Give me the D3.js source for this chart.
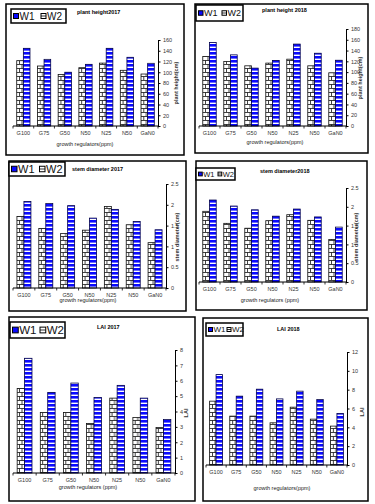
<!DOCTYPE html>
<html>
<head>
<meta charset="utf-8">
<script src="https://cdn.jsdelivr.net/npm/d3@7"></script>
<style>
  body { margin: 0; background: #fff; }
  svg { display: block; font-family: "Liberation Sans", Arial, sans-serif; }
</style>
</head>
<body>
<div id="chart"></div>
<script>
// categories shared by all six panels
const categories = ["G100", "G75", "G50", "N50", "N25", "N50", "GaN0"];

// plant height (cm)
const plantHeight2017W1 = [121.5, 111.6, 96, 108.5, 117, 103.6, 96.7];
const plantHeight2017W2 = [144.5, 124, 100, 114.7, 144.5, 127.8, 116.6];
const plantHeight2018W1 = [129, 119.8, 111.7, 116.7, 124, 111.7, 98.7];
const plantHeight2018W2 = [155, 132, 107.4, 121.7, 152, 135, 122];

// stem diameter (cm)
const stemDiameter2017W1 = [1.72, 1.43, 1.31, 1.39, 1.96, 1.52, 1.09];
const stemDiameter2017W2 = [2.08, 2.03, 1.98, 1.68, 1.89, 1.60, 1.40];
const stemDiameter2018W1 = [1.88, 1.56, 1.43, 1.63, 1.79, 1.64, 1.13];
const stemDiameter2018W2 = [2.18, 2.02, 1.92, 1.75, 1.94, 1.73, 1.46];

// leaf area index
const lai2017W1 = [5.5, 3.93, 3.93, 3.22, 4.87, 3.61, 2.96];
const lai2017W2 = [7.46, 5.24, 5.85, 4.91, 5.7, 4.87, 3.48];
const lai2018W1 = [6.78, 5.19, 5.19, 4.48, 6.14, 4.87, 4.13];
const lai2018W2 = [9.6, 7.31, 8.05, 7.02, 7.84, 6.95, 5.47];

const seriesNames = ["W1", "W2"];

const width = 375, height = 504;
const blue = "#0a0aff";

const svg = d3.select("#chart").append("svg")
  .attr("width", width)
  .attr("height", height);

// patterns: white brick for W1, blue stripes for W2
const defs = svg.append("defs");
const brick = defs.append("pattern")
  .attr("id", "brick")
  .attr("patternUnits", "userSpaceOnUse")
  .attr("width", 6).attr("height", 8);
brick.append("rect").attr("width", 6).attr("height", 8).attr("fill", "#fff");
brick.append("path")
  .attr("d", "M0,0.5H6M0,4.5H6M3,0.5V4.5M0.5,4.5V8")
  .attr("stroke", "#111").attr("stroke-width", 0.8).attr("fill", "none");

const stripes = defs.append("pattern")
  .attr("id", "stripes")
  .attr("patternUnits", "userSpaceOnUse")
  .attr("width", 8).attr("height", 4);
stripes.append("rect").attr("width", 8).attr("height", 4).attr("fill", "#fff");
stripes.append("rect").attr("width", 8).attr("height", 2.6).attr("fill", blue);

const panels = [
  { w1: plantHeight2017W1, w2: plantHeight2017W2, box: [6, 4, 184, 155], legend: [11, 9, 66, 23], legendFont: 10,
    title: "plant height2017", titleX: 77, titleY: 14, xL: 13, xR: 158, yTop: 40, yBot: 126, yMax: 160, step: 20,
    xTitle: "growth regulators(ppm)", xTitleX: 85, xTitleY: 146, yTitle: "plant height(cm)", yTitleX: 178, yTitleY: 83 },
  { w1: plantHeight2018W1, w2: plantHeight2018W2, box: [195, 4, 368, 153], legend: [196, 5, 243, 21], legendFont: 9,
    title: "plant height 2018", titleX: 262, titleY: 12, xL: 199, xR: 346, yTop: 29, yBot: 126, yMax: 180, step: 20,
    xTitle: "growth regulators(ppm)", xTitleX: 275, xTitleY: 144, yTitle: "plant height(cm)", yTitleX: 362, yTitleY: 78 },
  { w1: stemDiameter2017W1, w2: stemDiameter2017W2, box: [9, 161, 186, 311], legend: [9, 162, 65, 176], legendFont: 11,
    title: "stem diameter 2017", titleX: 72, titleY: 171, xL: 13, xR: 166, yTop: 184, yBot: 288, yMax: 2.5, step: 0.5,
    xTitle: "growth regulators(ppm)", xTitleX: 88, xTitleY: 302, yTitle: "stem diameter(cm)", yTitleX: 179, yTitleY: 237 },
  { w1: stemDiameter2018W1, w2: stemDiameter2018W2, box: [196, 161, 367, 310], legend: [196, 168, 235, 180], legendFont: 7.5,
    title: "stem diameter2018", titleX: 260, titleY: 173, xL: 199, xR: 346, yTop: 188, yBot: 282, yMax: 2.5, step: 0.5,
    xTitle: "growth regulators (ppm)", xTitleX: 270, xTitleY: 302, yTitle: "stem diameter(cm)", yTitleX: 358, yTitleY: 237 },
  { w1: lai2017W1, w2: lai2017W2, box: [9, 317, 195, 501], legend: [10, 322, 65, 338], legendFont: 11.5,
    title: "LAI 2017", titleX: 97, titleY: 329, xL: 13, xR: 175, yTop: 350, yBot: 473, yMax: 8, step: 1,
    xTitle: "growth regulators (ppm)", xTitleX: 88, xTitleY: 489, yTitle: "LAI", yTitleX: 188, yTitleY: 413 },
  { w1: lai2018W1, w2: lai2018W2, box: [203, 318, 368, 501], legend: [206, 323, 243, 336], legendFont: 8,
    title: "LAI 2018", titleX: 277, titleY: 331, xL: 206, xR: 347, yTop: 352, yBot: 465, yMax: 12, step: 2,
    xTitle: "growth regulators(ppm)", xTitleX: 282, xTitleY: 490, yTitle: "LAI", yTitleX: 364, yTitleY: 412 }
];

function drawPanel(p) {
  const g = svg.append("g");
  const [bx1, by1, bx2, by2] = p.box;

  g.append("rect")
    .attr("x", bx1).attr("y", by1)
    .attr("width", bx2 - bx1).attr("height", by2 - by1)
    .attr("fill", "none").attr("stroke", "#000").attr("stroke-width", 1.5);

  const x = d3.scaleBand()
    .domain(d3.range(categories.length))
    .range([p.xL, p.xR])
    .padding(0);
  const xInner = d3.scaleBand()
    .domain(seriesNames)
    .range([x.bandwidth() * 0.18, x.bandwidth() * 0.82])
    .padding(0);
  const y = d3.scaleLinear()
    .domain([0, p.yMax])
    .range([p.yBot, p.yTop]);

  // bars
  const groups = g.selectAll(".grp")
    .data(categories.map((c, i) => ({ i, vals: [p.w1[i], p.w2[i]] })))
    .join("g")
    .attr("transform", d => `translate(${x(d.i)},0)`);
  groups.selectAll("rect")
    .data(d => d.vals.map((v, k) => ({ key: seriesNames[k], v })))
    .join("rect")
    .attr("x", d => xInner(d.key))
    .attr("y", d => y(d.v))
    .attr("width", xInner.bandwidth())
    .attr("height", d => y(0) - y(d.v))
    .attr("fill", d => d.key === "W1" ? "url(#brick)" : "url(#stripes)")
    .attr("stroke", d => d.key === "W1" ? "#111" : "#00004a")
    .attr("stroke-width", 0.8);

  // x axis: line, boundary ticks, category labels
  g.append("line")
    .attr("x1", p.xL).attr("x2", p.xR)
    .attr("y1", p.yBot).attr("y2", p.yBot)
    .attr("stroke", "#000").attr("stroke-width", 1);
  g.selectAll(".xtick")
    .data(d3.range(categories.length + 1))
    .join("line")
    .attr("x1", i => p.xL + i * x.bandwidth())
    .attr("x2", i => p.xL + i * x.bandwidth())
    .attr("y1", p.yBot).attr("y2", p.yBot + 2.5)
    .attr("stroke", "#000").attr("stroke-width", 0.8);
  g.selectAll(".xlab")
    .data(categories)
    .join("text")
    .attr("x", (d, i) => x(i) + x.bandwidth() / 2)
    .attr("y", p.yBot + 9)
    .attr("text-anchor", "middle")
    .attr("font-size", 5.5)
    .attr("fill", "#333")
    .text(d => d);

  // y axis on the right
  const yAxis = g.append("g")
    .attr("transform", `translate(${p.xR},0)`)
    .call(d3.axisRight(y)
      .tickValues(d3.range(0, p.yMax + p.step / 2, p.step))
      .tickSize(2.5)
      .tickSizeOuter(0)
      .tickFormat(d3.format("~g")));
  yAxis.select(".domain").attr("stroke-width", 1);
  yAxis.selectAll("text").attr("font-size", 5.5).attr("fill", "#333").attr("x", 5);

  // titles
  g.append("text")
    .attr("x", p.titleX).attr("y", p.titleY)
    .attr("font-size", 5.5).attr("font-weight", "bold")
    .text(p.title);
  g.append("text")
    .attr("x", p.xTitleX).attr("y", p.xTitleY)
    .attr("text-anchor", "middle")
    .attr("font-size", 5.5).attr("fill", "#222")
    .text(p.xTitle);
  g.append("text")
    .attr("transform", `translate(${p.yTitleX},${p.yTitleY}) rotate(-90)`)
    .attr("text-anchor", "middle")
    .attr("font-size", 5.5).attr("font-weight", "bold").attr("fill", "#333")
    .text(p.yTitle);

  // legend
  const [lx1, ly1, lx2, ly2] = p.legend;
  g.append("rect")
    .attr("x", lx1).attr("y", ly1)
    .attr("width", lx2 - lx1).attr("height", ly2 - ly1)
    .attr("fill", "#fff").attr("stroke", "#000").attr("stroke-width", 1.5);
  const lw = (lx2 - lx1) / 2;
  const s = p.legendFont * 0.5;
  const cy = (ly1 + ly2) / 2;
  seriesNames.forEach((name, k) => {
    const ix = lx1 + 2.5 + k * lw;
    g.append("rect")
      .attr("x", ix).attr("y", cy - s / 2)
      .attr("width", s).attr("height", s)
      .attr("fill", k === 0 ? blue : "#fff")
      .attr("stroke", "#000").attr("stroke-width", 1);
    if (k === 1) {
      g.append("line")
        .attr("x1", ix).attr("x2", ix + s)
        .attr("y1", cy).attr("y2", cy)
        .attr("stroke", "#000").attr("stroke-width", 0.8);
    }
    g.append("text")
      .attr("x", ix + s + 1).attr("y", cy + p.legendFont * 0.36)
      .attr("font-size", p.legendFont)
      .attr("fill", "#111")
      .text(name);
  });
}

panels.forEach(drawPanel);
</script>
</body>
</html>
